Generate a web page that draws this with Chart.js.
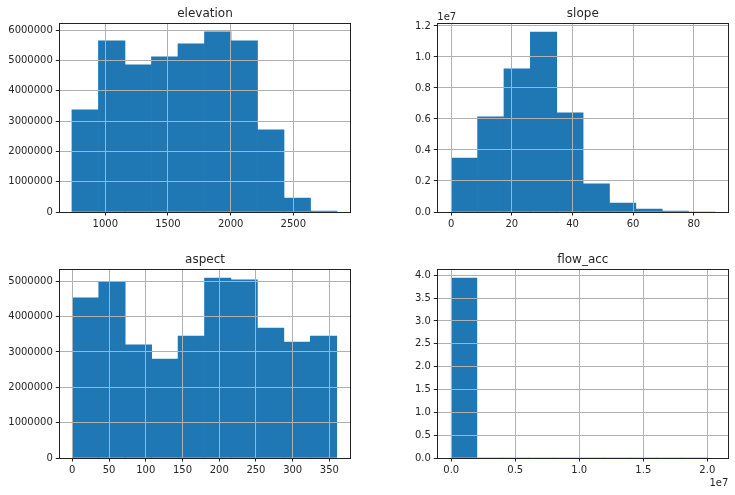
<!DOCTYPE html>
<html>
<head>
<meta charset="utf-8">
<title>Histograms</title>
<script src="https://cdn.jsdelivr.net/npm/chart.js@4/dist/chart.umd.min.js"></script>
<style>
  html, body { margin: 0; padding: 0; background: #fff; overflow: hidden; }
  canvas { position: absolute; }
</style>
</head>
<body>
<canvas id="elevation" style="left:0;top:0" width="368" height="248"></canvas>
<canvas id="slope" style="left:378px;top:0" width="357" height="248"></canvas>
<canvas id="aspect" style="left:0;top:246px" width="368" height="248"></canvas>
<canvas id="flow_acc" style="left:378px;top:246px" width="357" height="248"></canvas>
<script>
// elevation
const elevationEdges = [734, 945.5, 1157, 1368.5, 1580, 1791.5, 2003, 2214.5, 2426, 2637.5, 2849];
const elevationCounts = [3370000, 5650000, 4855000, 5120000, 5550000, 5945000, 5650000, 2710000, 460000, 30000];
const elevationXTicks = [1000, 1500, 2000, 2500];
const elevationYTicks = [0, 1000000, 2000000, 3000000, 4000000, 5000000, 6000000];
const elevationYLabels = ["0", "1000000", "2000000", "3000000", "4000000", "5000000", "6000000"];

// slope
const slopeEdges = [0, 8.7, 17.4, 26.1, 34.8, 43.5, 52.2, 60.9, 69.6, 78.3, 87];
const slopeCounts = [3480000, 6130000, 9230000, 11610000, 6390000, 1810000, 580000, 190000, 65000, 0];
const slopeXTicks = [0, 20, 40, 60, 80];
const slopeYTicks = [0, 2000000, 4000000, 6000000, 8000000, 10000000, 12000000];
const slopeYLabels = ["0.0", "0.2", "0.4", "0.6", "0.8", "1.0", "1.2"];

// aspect
const aspectEdges = [0, 36, 72, 108, 144, 180, 216, 252, 288, 324, 360];
const aspectCounts = [4530000, 4990000, 3200000, 2800000, 3450000, 5090000, 5040000, 3680000, 3280000, 3450000];
const aspectXTicks = [0, 50, 100, 150, 200, 250, 300, 350];
const aspectYTicks = [0, 1000000, 2000000, 3000000, 4000000, 5000000];
const aspectYLabels = ["0", "1000000", "2000000", "3000000", "4000000", "5000000"];

// flow_acc
const flowEdges = [0, 2000000, 4000000, 6000000, 8000000, 10000000, 12000000, 14000000, 16000000, 18000000, 20000000];
const flowCounts = [39400000, 0, 0, 0, 0, 0, 0, 0, 0, 0];
const flowXTicks = [0, 5000000, 10000000, 15000000, 20000000];
const flowXLabels = ["0.0", "0.5", "1.0", "1.5", "2.0"];
const flowYTicks = [0, 5000000, 10000000, 15000000, 20000000, 25000000, 30000000, 35000000, 40000000];
const flowYLabels = ["0.0", "0.5", "1.0", "1.5", "2.0", "2.5", "3.0", "3.5", "4.0"];

const TEXT = "#262626";
const FONT = "DejaVu Sans";

// khung trục + nhãn 1e7
const framePlugin = {
  id: "frame",
  afterDraw(chart, args, opts) {
    const { ctx, chartArea: a } = chart;
    const left = Math.floor(a.left) + 0.5;
    const top = Math.floor(a.top) + 0.5;
    const right = Math.floor(a.right) + 0.5;
    const bottom = Math.floor(a.bottom) + 0.5;
    ctx.save();
    ctx.strokeStyle = "#222";
    ctx.lineWidth = 1;
    ctx.strokeRect(left, top, right - left, bottom - top);
    ctx.fillStyle = TEXT;
    ctx.font = `10px "${FONT}"`;
    if (opts.topText) {
      ctx.textAlign = "left";
      ctx.fillText(opts.topText, a.left, a.top - 3.5);
    }
    if (opts.bottomText) {
      ctx.textAlign = "right";
      ctx.fillText(opts.bottomText, a.right, a.bottom + 28);
    }
    ctx.restore();
  },
};

function drawHist(id, title, edges, counts, xMin, xMax, xTicks, xLabels, yMax, yTicks, yLabels, right, frame) {
  const points = counts.map((c, i) => ({ x: (edges[i] + edges[i + 1]) / 2, y: c }));
  const gridStyle = {
    z: 1,
    color: "#b0b0b0",
    lineWidth: 1,
    tickColor: "#222",
    tickLength: 3.5,
  };
  new Chart(document.getElementById(id), {
    type: "bar",
    data: {
      datasets: [
        {
          data: points,
          backgroundColor: "#1f77b4",
          borderWidth: 0,
          barPercentage: 1,
          categoryPercentage: 1,
        },
      ],
    },
    options: {
      responsive: false,
      animation: false,
      layout: { padding: { left: 0, right: right, top: 0, bottom: 0 } },
      plugins: {
        legend: { display: false },
        tooltip: { enabled: false },
        frame: frame,
        title: {
          display: true,
          fullSize: false,
          text: title,
          color: TEXT,
          font: { family: FONT, size: 12, weight: "normal", lineHeight: 1.2 },
          padding: { top: 6.5, bottom: 2.4 },
        },
      },
      scales: {
        x: {
          type: "linear",
          offset: false,
          min: xMin,
          max: xMax,
          grid: { ...gridStyle, offset: false },
          border: { display: false },
          afterBuildTicks: (scale) => {
            scale.ticks = xTicks.map((v) => ({ value: v }));
          },
          afterFit: (scale) => {
            scale.height = 36;
          },
          ticks: {
            color: TEXT,
            font: { family: FONT, size: 10 },
            padding: 3,
            autoSkip: false,
            maxRotation: 0,
            callback: (v, i) => (xLabels ? xLabels[i] : String(v)),
          },
        },
        y: {
          min: 0,
          max: yMax,
          grid: gridStyle,
          border: { display: false },
          afterBuildTicks: (scale) => {
            scale.ticks = yTicks.map((v) => ({ value: v }));
          },
          afterFit: (scale) => {
            scale.width = 59.3;
          },
          ticks: {
            color: TEXT,
            font: { family: FONT, size: 10 },
            padding: 3,
            autoSkip: false,
            callback: (v, i) => yLabels[i],
          },
        },
      },
    },
    plugins: [framePlugin],
  });
}

drawHist("elevation", "elevation", elevationEdges, elevationCounts, 633, 2958, elevationXTicks, null, 6230000, elevationYTicks, elevationYLabels, 17.3, {});
drawHist("slope", "slope", slopeEdges, slopeCounts, -4.6, 91.4, slopeXTicks, null, 12170000, slopeYTicks, slopeYLabels, 6.7, { topText: "1e7" });
drawHist("aspect", "aspect", aspectEdges, aspectCounts, -17.7, 379, aspectXTicks, null, 5340000, aspectYTicks, aspectYLabels, 17.3, {});
drawHist("flow_acc", "flow_acc", flowEdges, flowCounts, -1090000, 21640000, flowXTicks, flowXLabels, 41300000, flowYTicks, flowYLabels, 6.7, { bottomText: "1e7" });
</script>
</body>
</html>
